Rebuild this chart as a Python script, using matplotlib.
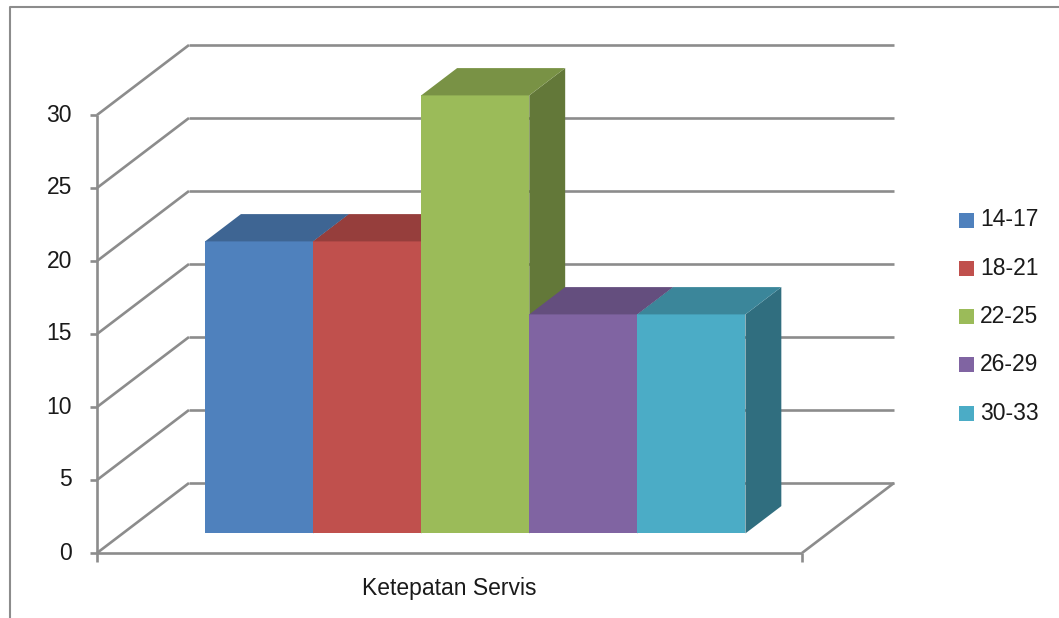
import numpy as np
import matplotlib
matplotlib.use('Agg')
import matplotlib.pyplot as plt
from matplotlib.patches import Polygon, Rectangle
from matplotlib.lines import Line2D

# data
category = 'Ketepatan Servis'
series = ['14-17', '18-21', '22-25', '26-29', '30-33']
values = [20, 20, 30, 15, 15]
colors = ['#4F81BD', '#C0504D', '#9BBB59', '#8064A2', '#4BACC6']
yticks = [0, 5, 10, 15, 20, 25, 30]

W, H = 1059, 618
DX, DY = 92, 70          # depth of the floor in pixels
GRID = '#8c8c8c'
plt.rcParams['font.family'] = ['Liberation Sans', 'DejaVu Sans']
FS = 16.5


def shade(c, f):
    r, g, b = matplotlib.colors.to_rgb(c)
    return (r * f, g * f, b * f)


fig = plt.figure(figsize=(W / 100, H / 100), dpi=100)
# front plane of the 3d box
ax = fig.add_axes([97 / W, (H - 553) / H, (802 - 97) / W, (553 - 115) / H])
ax.set_xlim(0, 1)
ax.set_ylim(0, 30)
ax.axis('off')


def proj(x, v, d):
    px, py = ax.transData.transform((x, v))
    return (px + d * DX, py + d * DY)


def seg(p, q, **kw):
    fig.add_artist(Line2D([p[0], q[0]], [p[1], q[1]], transform=None,
                          color=GRID, lw=1.9, solid_capstyle='butt', **kw))


# walls / gridlines
for v in yticks:
    seg(proj(0, v, 0), proj(0, v, 1))
    seg(proj(0, v, 1), proj(1, v, 1))
    p = proj(0, v, 0)
    seg((p[0] - 7, p[1]), p)
    ax.annotate(str(v), (0, v), xytext=(-25 * 0.72, 0), textcoords='offset points',
                ha='right', va='center', fontsize=FS, color='#1a1a1a')
seg(proj(0, 0, 0), proj(0, 30, 0))
seg(proj(0, 0, 0), proj(1, 0, 0))
seg(proj(1, 0, 0), proj(1, 0, 1))
for x in (0, 1):
    p = proj(x, 0, 0)
    seg(p, (p[0], p[1] - 9))

ax.annotate(category, (0.5, 0), xytext=(0, -35 * 0.72), textcoords='offset points',
            ha='center', va='center', fontsize=FS, color='#1a1a1a')

# bars
n = len(values)
bw = 0.1533
gap = (1 - n * bw) / 2
d0, d1 = 0.28, 0.67
for i, (v, c) in enumerate(zip(values, colors)):
    x0 = gap + i * bw
    x1 = x0 + bw
    front = [proj(x0, 0, d0), proj(x1, 0, d0), proj(x1, v, d0), proj(x0, v, d0)]
    side = [proj(x1, 0, d0), proj(x1, 0, d1), proj(x1, v, d1), proj(x1, v, d0)]
    top = [proj(x0, v, d0), proj(x1, v, d0), proj(x1, v, d1), proj(x0, v, d1)]
    for pts, col in ((front, c), (side, shade(c, 0.64)), (top, shade(c, 0.78))):
        fig.add_artist(Polygon(pts, closed=True, transform=None, facecolor=col,
                               edgecolor='none', zorder=3))

# legend
for i, (s, c) in enumerate(zip(series, colors)):
    yc = H - (220 + i * 48.3)
    fig.add_artist(Rectangle((959, yc - 7.5), 15, 15, transform=None,
                             facecolor=c, edgecolor='none'))
    fig.text(980 / W, yc / H, s, ha='left', va='center', fontsize=FS, color='#1a1a1a')

# chart border
fig.add_artist(Line2D([10, 10, W + 5], [-5, H - 7, H - 7], transform=None,
                      color='#8c8c8c', lw=1.5))

fig.savefig('out.png', dpi=100)
